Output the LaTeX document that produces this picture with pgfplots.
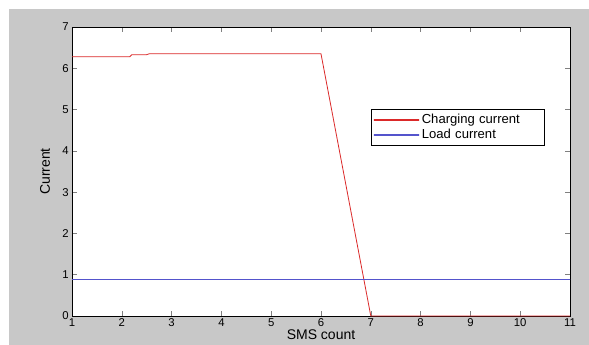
\documentclass[border=0pt]{standalone}
\usepackage{fontspec}
\setmainfont{Liberation Sans}
\usepackage{pgfplots}
\pgfplotsset{compat=1.18}
\definecolor{figgray}{RGB}{200,200,200}
\definecolor{chgred}{rgb}{0.86,0.16,0.16}
\definecolor{loadblue}{rgb}{0.33,0.33,0.80}
\begin{document}
\begin{tikzpicture}
\path (0,0) rectangle (441.75pt,258.75pt);
\fill[figgray] (6.75pt,0) rectangle (441.75pt,252pt);
\begin{axis}[
  at={(54pt,21.75pt)}, anchor=south west,
  scale only axis, width=373.5pt, height=216.75pt,
  xmin=1, xmax=11, ymin=0, ymax=7,
  clip=false,
  xtick={1,2,...,11}, ytick={0,1,...,7},
  tick align=inside, major tick length=3.5pt,
  tick style={line width=0.4pt},
  axis line style={line width=0.5pt},
  axis background/.style={fill=white},
  /pgf/number format/assume math mode=true,
  ticklabel style={font=\fontsize{8.5}{10}\selectfont},
  xticklabel style={yshift=1.5pt},
  yticklabel style={xshift=1pt},
  xlabel={SMS count}, ylabel={Current},
  label style={font=\fontsize{10.5}{12}\selectfont},
  xlabel style={at={(axis description cs:0.5,-0.064)}, anchor=center},
  ylabel style={at={(axis description cs:-0.054,0.5)}, anchor=center},
  legend style={at={(0.600,0.716)}, anchor=north west, line width=0.5pt,
    font=\fontsize{9.8}{11}\selectfont, inner xsep=2pt, inner ysep=1.5pt,
    row sep=-1.5pt, fill=white,
    nodes={text width=88pt, align=left}},
  legend cell align=left,
]
\addplot[color=chgred, draw=chgred, line width=0.6pt,
  legend image code/.code={\shade[top color=chgred, bottom color=chgred, draw=none] (0pt,-0.4pt) rectangle (34pt,0.4pt);}]
  coordinates {
  (1,6.28) (2.16,6.28) (2.2,6.33) (2.5,6.33) (2.55,6.35) (6,6.35) (7,0) (11,0)
};
\addlegendentry{Charging current}
\addplot[draw=none, shade, top color=loadblue, bottom color=loadblue,
  legend image code/.code={\shade[top color=loadblue, bottom color=loadblue, draw=none] (0pt,-0.4pt) rectangle (34pt,0.4pt);}]
  coordinates {
  (1,0.88) (11,0.88) (11,0.90) (1,0.90)
} -- cycle;
\addlegendentry{Load current}
\end{axis}
\end{tikzpicture}
\end{document}
